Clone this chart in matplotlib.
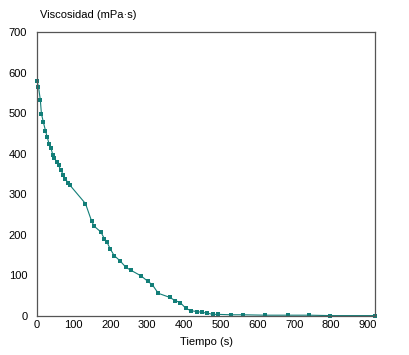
import matplotlib
matplotlib.use("Agg")
import matplotlib.pyplot as plt

tiempo = [0, 4, 9, 12, 17, 23, 28, 33, 38, 43, 47, 54, 59, 65, 72, 77, 84, 90,
          132, 149, 156, 174, 183, 190, 199, 210, 226, 242, 255, 283, 301, 314,
          330, 361, 376, 390, 405, 419, 435, 449, 464, 478, 494, 528, 560, 621,
          682, 740, 798, 920]
viscosidad = [580, 565, 533, 499, 479, 457, 440, 424, 414, 397, 390, 379, 371,
              359, 348, 338, 329, 322, 277, 233, 221, 207, 191, 183, 166, 149,
              136, 120, 113, 99, 86, 77, 56, 46, 38, 33, 19, 13, 11, 9, 7, 4, 4,
              3, 3, 2, 2, 2, 1, 1]
xticks = list(range(0, 1000, 100))
yticks = list(range(0, 800, 100))

plt.rcParams['font.family'] = ['Liberation Sans', 'DejaVu Sans']
fig = plt.figure(figsize=(4.1, 3.55), dpi=100)
ax = fig.add_axes([37/410, 1-316/355, (375-37)/410, (316-32)/355])
ax.plot(tiempo, viscosidad, color='#127e78', lw=0.8, marker='s', ms=2.6,
        mew=0, mfc='#127e78', clip_on=False)
ax.set_xlim(0, 920)
ax.set_ylim(0, 700)
ax.set_xticks(xticks)
ax.set_yticks(yticks)
ax.tick_params(length=0, labelsize=8, colors='black')
ax.tick_params(axis='y', pad=7)
ax.tick_params(axis='x', pad=3)
for s in ax.spines.values():
    s.set_color('#555555')
    s.set_linewidth(0.9)
fig.text(40/410, 1-15/355, 'Viscosidad (mPa·s)', fontsize=8, ha='left', va='center')
fig.text(207/410, 1-342/355, 'Tiempo (s)', fontsize=8, ha='center', va='center')
fig.savefig('out.png', dpi=100)
